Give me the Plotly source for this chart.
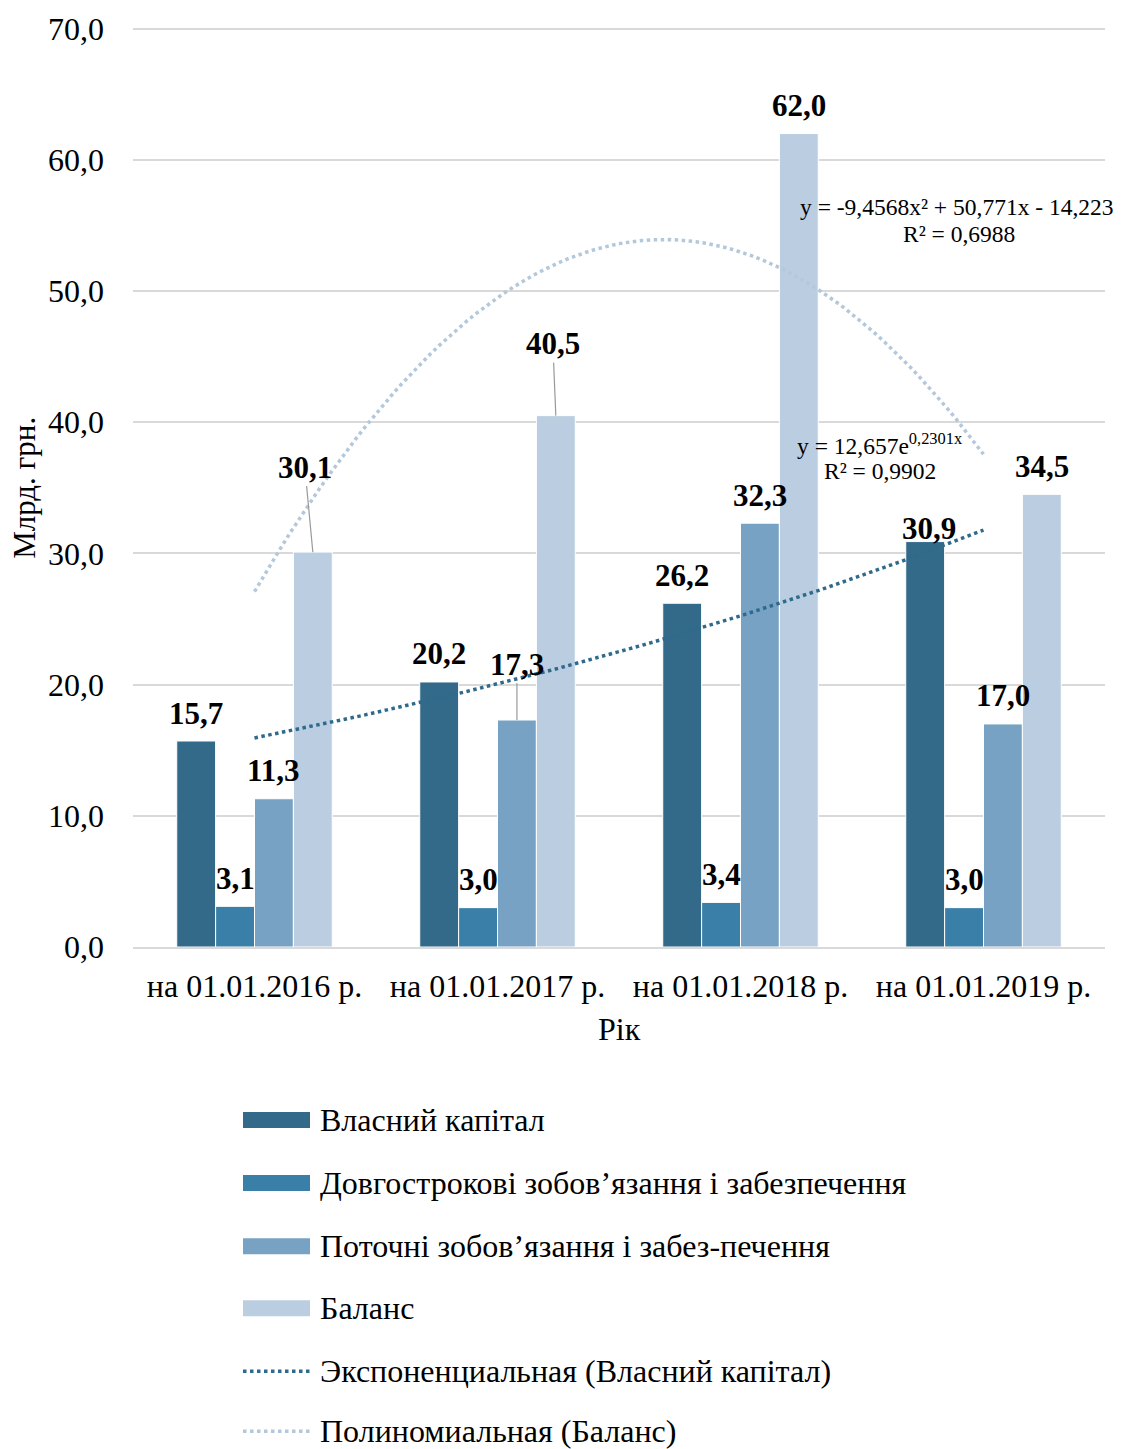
import numpy as np
import plotly.graph_objects as go

categories = ["на 01.01.2016 р.", "на 01.01.2017 р.", "на 01.01.2018 р.", "на 01.01.2019 р."]
series_names = ["Власний капітал", "Довгострокові зобов’язання і забезпечення",
                "Поточні зобов’язання і забез-печення", "Баланс"]
own_capital = [15.7, 20.2, 26.2, 30.9]
long_term = [3.1, 3.0, 3.4, 3.0]
current = [11.3, 17.3, 32.3, 17.0]
balance = [30.1, 40.5, 62.0, 34.5]
series_values = [own_capital, long_term, current, balance]
colors = ["#336A8A", "#3A7FA8", "#77A2C3", "#BBCEE1"]

# trendline coefficients as displayed on the chart
exp_coef = [12.657, 0.2301]
poly_coef = [-9.4568, 50.771, -14.223]
exp_lines = ["y = 12,657e<sup>0,2301x</sup>", "R² = 0,9902"]
poly_lines = ["y = -9,4568x² + 50,771x - 14,223", "R² = 0,6988"]
trend_names = ["Экспоненциальная (Власний капітал)", "Полиномиальная (Баланс)"]
trend_colors = ["#2E6A8C", "#B4C8DC"]

FONT = "Liberation Serif"
# plot area in target pixels: x 133..1105, y(0)=947, y(70)=29 ; page body adds an 8px offset
OFF = 8
PX0, PW, PY0, PH70 = 133, 972, 947, 918
YMAX = 70.5
FIG_W, FIG_H = 1122 - OFF, 1449 - OFF


def px(xp):
    return (xp - PX0) / PW


def py(yp):
    return (PY0 - yp) / PH70 * 70 / YMAX


xpos = np.arange(1, len(categories) + 1)
bargap = 0.36
bw = (1 - bargap) / 4

fig = go.Figure()
for name, vals, col in zip(series_names, series_values, colors):
    fig.add_trace(go.Bar(x=xpos, y=vals, name=name, marker_color=col,
                         marker_line_color="white", marker_line_width=1, showlegend=False))

xs = np.linspace(1, 4, 80)
fig.add_trace(go.Scatter(x=xs, y=exp_coef[0] * np.exp(exp_coef[1] * xs), mode="lines",
                         line=dict(color=trend_colors[0], dash="dot", width=3.5), showlegend=False))
fig.add_trace(go.Scatter(x=xs, y=np.polyval(poly_coef, xs), mode="lines",
                         line=dict(color=trend_colors[1], dash="dot", width=3.5), showlegend=False))

annotations = []
LBL = 31
leaders = {(3, 0): (-8, -85), (3, 1): (-3, -72), (2, 1): (0, -56)}
shifts = {(0, 3): (4, 13)}
for si, vals in enumerate(series_values):
    for ci, v in enumerate(vals):
        bx = xpos[ci] + (si - 1.5) * bw
        txt = f"{v:.1f}".replace(".", ",")
        if (si, ci) in leaders:
            ax, ay = leaders[(si, ci)]
            annotations.append(dict(x=bx, y=v, xref="x", yref="y", text=f"<b>{txt}</b>",
                                    showarrow=True, arrowhead=0, arrowwidth=1.2, arrowcolor="#9a9a9a",
                                    ax=ax, ay=ay, standoff=0,
                                    font=dict(family=FONT, size=LBL, color="black")))
        else:
            xs_, ys_ = shifts.get((si, ci), (0, 28))
            annotations.append(dict(x=bx, y=v, xref="x", yref="y", text=f"<b>{txt}</b>",
                                    showarrow=False, yanchor="middle", yshift=ys_, xshift=xs_,
                                    font=dict(family=FONT, size=LBL, color="black")))

# trend equations
for txt, (xp, yp) in zip(poly_lines + exp_lines,
                         [(957, 207), (959, 234), (880, 444), (880, 471)]):
    annotations.append(dict(x=px(xp), y=py(yp), xref="paper", yref="paper", text=txt,
                            showarrow=False, xanchor="center", yanchor="middle",
                            font=dict(family=FONT, size=23.5, color="black")))

# axis titles
annotations.append(dict(x=px(25), y=py(488), xref="paper", yref="paper", text="Млрд. грн.",
                        textangle=-90, showarrow=False, xanchor="center", yanchor="middle",
                        font=dict(family=FONT, size=31, color="black")))
annotations.append(dict(x=0.5, y=py(1029), xref="paper", yref="paper", text="Рік",
                        showarrow=False, xanchor="center", yanchor="middle",
                        font=dict(family=FONT, size=32, color="black")))

# manual legend
shapes = []
leg_names = series_names + trend_names
leg_y = [1120, 1183, 1246, 1308, 1371, 1431]
for i, (nm, yp) in enumerate(zip(leg_names, leg_y)):
    yc = py(yp)
    if i < 4:
        shapes.append(dict(type="rect", xref="paper", yref="paper", x0=px(243), x1=px(310),
                           y0=py(yp + 8), y1=py(yp - 8), fillcolor=colors[i], line_width=0))
    else:
        shapes.append(dict(type="line", xref="paper", yref="paper", x0=px(243), x1=px(310),
                           y0=yc, y1=yc,
                           line=dict(color=trend_colors[i - 4], dash="dot", width=3.5)))
    annotations.append(dict(x=px(318), y=yc, xref="paper", yref="paper", text=nm,
                            showarrow=False, xanchor="left", yanchor="middle",
                            font=dict(family=FONT, size=32, color="black")))

plot_h = PH70 * YMAX / 70
left = PX0 - OFF
right = FIG_W - left - PW
bottom = FIG_H - (PY0 - OFF)
top = FIG_H - bottom - plot_h

fig.update_layout(
    width=FIG_W, height=FIG_H,
    margin=dict(l=left, r=right, t=top, b=bottom, pad=0, autoexpand=False),
    paper_bgcolor="white", plot_bgcolor="white",
    barmode="group", bargap=bargap, bargroupgap=0,
    separators=", ",
    font=dict(family=FONT, size=32, color="black"),
    showlegend=False,
    annotations=annotations, shapes=shapes,
)
fig.update_xaxes(range=[0.5, 4.5], tickvals=list(xpos), ticktext=categories,
                 showgrid=False, showline=True, linecolor="#d9d9d9", linewidth=2,
                 ticks="", ticklabelstandoff=10, tickfont=dict(family=FONT, size=32),
                 zeroline=False, automargin=False)
fig.update_yaxes(range=[0, YMAX], dtick=10, tick0=0, tickformat=".1f", showgrid=True,
                 gridcolor="#d9d9d9", gridwidth=2, zeroline=False, showline=False,
                 ticks="", ticklabelstandoff=28, tickfont=dict(family=FONT, size=32),
                 automargin=False)

fig.write_html("out.html")
